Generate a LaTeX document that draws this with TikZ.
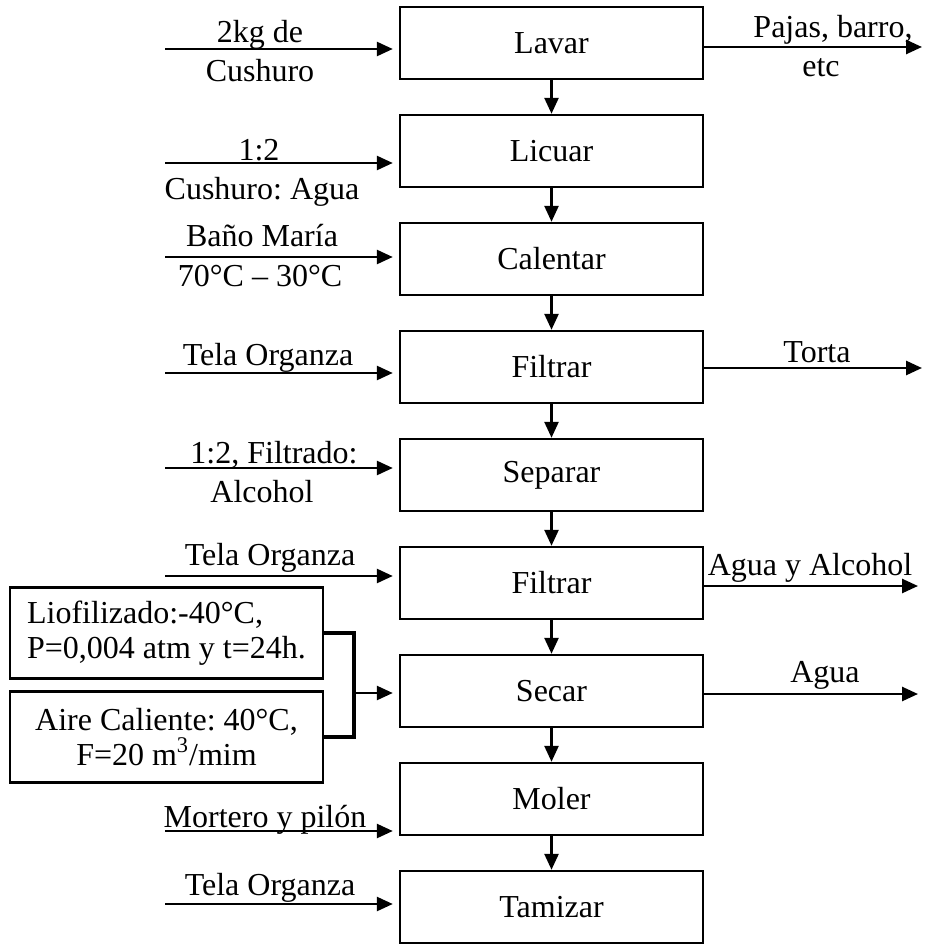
\documentclass[tikz,border=0pt]{standalone}
\usepackage{fontspec}
\setmainfont{Liberation Serif}
\usetikzlibrary{arrows.meta,positioning}
\frenchspacing
\tikzset{
  etapa/.style={rectangle,draw,line width=1.2pt,minimum width=151.5pt,
    minimum height=36pt,inner sep=0pt},
  cond/.style={rectangle,draw,line width=1.2pt,minimum width=156.5pt,
    minimum height=45.5pt,inner sep=0pt},
  lab/.style={anchor=base,inner sep=0pt},
  arr/.style={-{Triangle[length=8pt,width=7pt]},line width=1.3pt},
  llave/.style={line width=2pt}
}

\begin{document}
\begin{tikzpicture}[x=0.5pt,y=-0.5pt,font=\fontsize{16}{17.5}\selectfont]
  \useasboundingbox (0,0) rectangle (927,946);
  % etapas del proceso
  \node[etapa] (lavar) at (551.5,43) {Lavar};
  \node[etapa,below=16.8pt of lavar] (licuar) {Licuar};
  \node[etapa,below=16.8pt of licuar] (calentar) {Calentar};
  \node[etapa,below=16.8pt of calentar] (filtrarA) {Filtrar};
  \node[etapa,below=16.8pt of filtrarA] (separar) {Separar};
  \node[etapa,below=16.8pt of separar] (filtrarB) {Filtrar};
  \node[etapa,below=16.8pt of filtrarB] (secar) {Secar};
  \node[etapa,below=16.8pt of secar] (moler) {Moler};
  \node[etapa,below=16.8pt of moler] (tamizar) {Tamizar};
  \foreach \a/\b in {lavar/licuar,licuar/calentar,calentar/filtrarA,
    filtrarA/separar,separar/filtrarB,filtrarB/secar,secar/moler,moler/tamizar}
    \draw[arr] (\a) -- (\b);

  % entradas
  \foreach \n/\y in {lavar/49,licuar/163,calentar/257,filtrarA/373,
    separar/468,filtrarB/576,moler/831,tamizar/904} {
    \coordinate (in-\n) at (165,\y);
    \draw[arr,shorten >=3pt] (in-\n) -- (in-\n -| \n.west);
  }
  \node[lab] (e1a) at (260,43) {2kg de};
  \node[lab] (e1b) at (260,82) {Cushuro};
  \node[lab] (e2a) at (259,161) {1:2};
  \node[lab] (e2b) at (262,200) {Cushuro: Agua};
  \node[lab] (e3a) at (262,247) {Baño María};
  \node[lab] (e3b) at (260,286) {70°C – 30°C};
  \node[lab] (e4a) at (268,365) {Tela Organza};
  \node[lab] (e5a) at (274,463) {1:2, Filtrado:};
  \node[lab] (e5b) at (262,502) {Alcohol};
  \node[lab] (e6a) at (270,565) {Tela Organza};
  \node[lab] (e8a) at (265,827) {Mortero y pilón};
  \node[lab] (e9a) at (270,895) {Tela Organza};

  % secado: dos alternativas
  \node[cond,align=left] (liof) at (166.5,633)
    {Liofilizado:-40°C,\\P=0,004 atm y t=24h.};
  \node[cond,align=center] (aire) at (166.5,737)
    {Aire Caliente: 40°C,\\F=20 m\textsuperscript{3}/mim};
  \coordinate (jn) at (354,693);
  \draw[llave] (liof.east) -| (jn) |- (aire.east);
  \draw[arr,shorten >=3pt] (jn) -- (jn -| secar.west);

  % salidas
  \foreach \n/\y/\xe in {lavar/47/922,filtrarA/368/922,filtrarB/586/918,secar/694/918} {
    \coordinate (out-\n) at (\xe,\y);
    \draw[arr] (out-\n -| \n.east) -- (out-\n);
  }
  \node[lab] (s1a) at (833,38) {Pajas, barro,};
  \node[lab] (s1b) at (821,77) {etc};
  \node[lab] (s4a) at (817,362) {Torta};
  \node[lab] (s6a) at (810,575) {Agua y Alcohol};
  \node[lab] (s7a) at (825,682) {Agua};
\end{tikzpicture}
\end{document}
